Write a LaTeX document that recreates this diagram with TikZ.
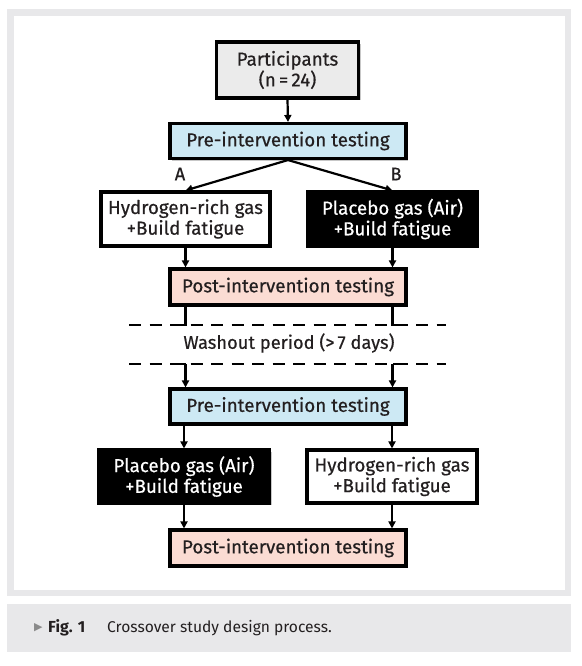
\documentclass[tikz,border=0pt]{standalone}
\usepackage{fontspec}
\setmainfont{Fira Sans}
\newfontfamily\boxfont{Fira Sans}[FakeBold=0.5]
\newfontfamily\symfont{DejaVu Sans}
\usetikzlibrary{arrows.meta,shadows}
\definecolor{framegray}{HTML}{E8E8EA}
\definecolor{partgray}{HTML}{EBEBEB}
\definecolor{preblue}{HTML}{CDE9F4}
\definecolor{postpink}{HTML}{FBDCD3}
\definecolor{tri}{HTML}{8A8A8A}
\definecolor{ink}{HTML}{231F20}
\tikzset{
  box/.style={draw=black, line width=3.1pt, inner sep=0pt, align=center,
    font=\boxfont\fontsize{18.8}{20.7}\selectfont, text=ink,
    drop shadow={shadow xshift=2pt, shadow yshift=-2pt, opacity=0.22, fill=black}},
  partbox/.style={box, fill=partgray},
  prebox/.style={box, fill=preblue},
  postbox/.style={box, fill=postpink},
  whitebox/.style={box, fill=white},
  blackbox/.style={box, fill=black, text=white},
  arr/.style={line width=2.2pt, -{Triangle[length=7pt,width=7pt]}},
  plain/.style={line width=2.4pt},
  dashline/.style={line width=2.6pt, dash pattern=on 12pt off 8.5pt},
  lbl/.style={font=\boxfont\fontsize{18.3}{20}\selectfont, text=ink, inner sep=0pt}
}
\begin{document}
\begin{tikzpicture}[x=1pt,y=-1pt]
\useasboundingbox (0,0) rectangle (581,666);
\fill[framegray] (7,9) rectangle (571,596);
\fill[white] (14,16) rectangle (565,590);
\fill[framegray] (7,604) rectangle (571,652);

\node[partbox, minimum width=142pt, minimum height=56pt] (part) at (287.5,70) {Participants\\(n\,=\,24)};
\node[prebox, minimum width=236pt, minimum height=35pt] (pre1) at (288,141) {Pre-intervention testing};
\node[whitebox, minimum width=169pt, minimum height=54pt] (h1) at (185.5,219) {Hydrogen-rich gas\\+Build fatigue};
\node[blackbox, minimum width=169pt, minimum height=54pt] (p1) at (392.5,219) {Placebo gas (Air)\\+Build fatigue};
\node[postbox, minimum width=236pt, minimum height=36pt] (post1) at (288,287) {Post-intervention testing};
\node[lbl] (washout) at (289,343) {Washout period (>\,7 days)};
\node[prebox, minimum width=236pt, minimum height=35pt] (pre2) at (288,406.5) {Pre-intervention testing};
\node[blackbox, minimum width=171pt, minimum height=53pt] (p2) at (184,476.5) {Placebo gas (Air)\\+Build fatigue};
\node[whitebox, minimum width=170pt, minimum height=53pt] (h2) at (392,476.5) {Hydrogen-rich gas\\+Build fatigue};
\node[postbox, minimum width=236pt, minimum height=36pt] (post2) at (288,548) {Post-intervention testing};

\node[lbl] (la) at (180,174) {A};
\node[lbl] (lb) at (396,174) {B};

\coordinate (d1l) at (129,325);
\coordinate (d1r) at (446,325);
\coordinate (d2l) at (129,364);
\coordinate (d2r) at (446,364);
\draw[dashline] (d1l) -- (d1r);
\draw[dashline] (d2l) -- (d2r);

% corner stubs joining the dashed lines
\coordinate (s1l) at (174,325);
\coordinate (s1r) at (403,325);
\coordinate (s2l) at (174,364);
\coordinate (s2r) at (403,364);

\draw[arr] (part.south) -- (pre1.north);
\draw[arr] (pre1.south) -- (h1.north);
\draw[arr] (pre1.south) -- (p1.north);
\draw[arr] (h1.south) -- (h1.south |- post1.north);
\draw[arr] (p1.south) -- (p1.south |- post1.north);
\draw[plain] (h1.south |- post1.south) -- (h1.south |- d1l) -- (s1l);
\draw[plain] (p1.south |- post1.south) -- (p1.south |- d1l) -- (s1r);
\draw[plain] (s2l) -- (h1.south |- d2l);
\draw[plain] (s2r) -- (p1.south |- d2r);
\draw[arr] (h1.south |- d2l) -- (h1.south |- pre2.north);
\draw[arr] (p1.south |- d2l) -- (p1.south |- pre2.north);
\draw[arr] (p2.north |- pre2.south) -- (p2.north);
\draw[arr] (h2.north |- pre2.south) -- (h2.north);
\draw[arr] (p2.south) -- (p2.south |- post2.north);
\draw[arr] (h2.south) -- (h2.south |- post2.north);

\node[anchor=west, inner sep=0pt, text=tri, font=\symfont\fontsize{11}{13}\selectfont] (captri) at (34,628) {▶};
\node[anchor=west, inner sep=0pt, text=ink, font=\bfseries\fontsize{16}{19}\selectfont] (capfig) at (48,628) {Fig. 1};
\node[anchor=west, inner sep=0pt, text=ink, font=\fontsize{15.6}{19}\selectfont] (captext) at (107,628) {Crossover study design process.};
\end{tikzpicture}
\end{document}
